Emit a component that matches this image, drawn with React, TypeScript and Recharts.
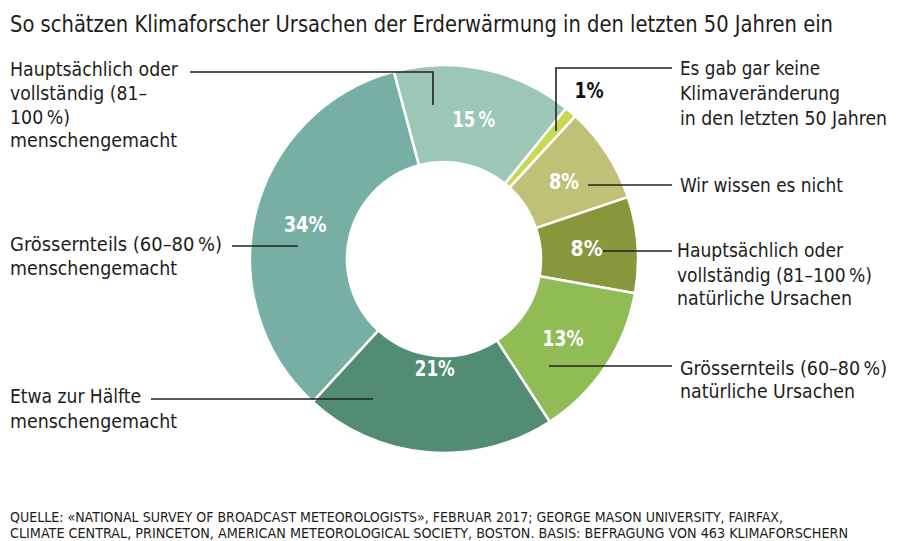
import { PieChart, Pie, Cell } from 'recharts'

// Umfrage: Ursachen der Erderwärmung (Anteile in %), im Uhrzeigersinn ab 15 %-Segment
const categories = [
  'Hauptsächlich oder vollständig (81–100 %) menschengemacht',
  'Es gab gar keine Klimaveränderung in den letzten 50 Jahren',
  'Wir wissen es nicht',
  'Hauptsächlich oder vollständig (81–100 %) natürliche Ursachen',
  'Grössernteils (60–80 %) natürliche Ursachen',
  'Etwa zur Hälfte menschengemacht',
  'Grössernteils (60–80 %) menschengemacht',
]
const shares = [15, 1, 8, 8, 13, 21, 34]
const shareLabels = ['15\u202f%', '1%', '8%', '8%', '13%', '21%', '34%']

const colors = ['#9cc6b5', '#c6d94f', '#bfc276', '#8a963c', '#8fbc55', '#528c73', '#77afa5']
const labelWidths = [43, 29, 30, 32, 41, 40, 43]

const title = 'So schätzen Klimaforscher Ursachen der Erderwärmung in den letzten 50 Jahren ein'
const sourceLines = [
  'QUELLE: «NATIONAL SURVEY OF BROADCAST METEOROLOGISTS», FEBRUAR 2017; GEORGE MASON UNIVERSITY, FAIRFAX,',
  'CLIMATE CENTRAL, PRINCETON, AMERICAN METEOROLOGICAL SOCIETY, BOSTON. BASIS: BEFRAGUNG VON 463 KLIMAFORSCHERN',
]

const FONT = "'Liberation Sans Narrow', 'DejaVu Sans Condensed', 'Arial Narrow', sans-serif"
const INK = '#1d1d1b'
const RADIAN = Math.PI / 180

const data = categories.map((name, i) => ({ name, value: shares[i], label: shareLabels[i] }))

// [text, x, baseline, width]
type Line = [string, number, number, number]
const annotationText: Line[] = [
  ['Hauptsächlich oder', 10, 76, 168],
  ['vollständig (81–', 10, 100, 137],
  ['100\u202f%)', 10, 124, 60],
  ['menschengemacht', 10, 147, 167],
  ['Grössernteils (60–80\u202f%)', 10, 251, 212],
  ['menschengemacht', 10, 275, 167],
  ['Etwa zur Hälfte', 10, 403, 131],
  ['menschengemacht', 10, 428, 167],
  ['Es gab gar keine', 680, 75, 140],
  ['Klimaveränderung', 680, 100, 160],
  ['in den letzten 50 Jahren', 680, 125, 207],
  ['Wir wissen es nicht', 680, 192, 163],
  ['Hauptsächlich oder', 677, 257, 166],
  ['vollständig (81–100\u202f%)', 677, 282, 195],
  ['natürliche Ursachen', 677, 305, 175],
  ['Grössernteils (60–80\u202f%)', 680, 375, 207],
  ['natürliche Ursachen', 680, 398, 175],
]

const leaders = [
  '190,72 433,72 433,105',
  '232,246 298,246',
  '151,399 373,399',
  '672,68 556,68 556,131',
  '588,185 672,185',
  '603,251 672,251',
  '549,366 672,366',
]

const renderShare = (props: any) => {
  const { cx, cy, midAngle, index } = props
  const small = data[index].value < 3
  // 21 % sits further in so the leader line passes under it
  const r = small ? 222 : data[index].value === 21 ? 110 : 143
  const x = cx + r * Math.cos(-midAngle * RADIAN)
  const y = cy + r * Math.sin(-midAngle * RADIAN)
  return (
    <text
      x={x}
      y={y}
      textAnchor="middle"
      dominantBaseline="central"
      fill={small ? '#111' : '#fff'}
      fontFamily={FONT}
      fontWeight="bold"
      fontSize={22}
      textLength={labelWidths[index]}
      lengthAdjust="spacingAndGlyphs"
    >
      {data[index].label}
    </text>
  )
}

export default function App() {
  return (
    <div style={{ position: 'absolute', left: 0, top: 0, width: 898, height: 541, background: '#fff' }}>
      <PieChart width={898} height={541} margin={{ top: 0, right: 0, bottom: 0, left: 0 }}>
        <Pie
          data={data}
          dataKey="value"
          nameKey="name"
          cx={444}
          cy={259}
          innerRadius={97}
          outerRadius={194}
          startAngle={105}
          endAngle={-255}
          stroke="#fff"
          strokeWidth={2.5}
          label={renderShare}
          labelLine={false}
          isAnimationActive={false}
        >
          {data.map((d, i) => (
            <Cell key={d.name} fill={colors[i]} />
          ))}
        </Pie>
      </PieChart>
      <svg
        width={898}
        height={541}
        style={{ position: 'absolute', left: 0, top: 0, pointerEvents: 'none' }}
      >
        <text x={10} y={32} fontFamily={FONT} fontSize={23} fill={INK} textLength={823} lengthAdjust="spacingAndGlyphs">
          {title}
        </text>
        {leaders.map((p) => (
          <polyline key={p} points={p} fill="none" stroke="#222" strokeWidth={1.6} />
        ))}
        {annotationText.map(([t, x, y, w], i) => (
          <text key={i} x={x} y={y} fontFamily={FONT} fontSize={20} fill={INK} textLength={w} lengthAdjust="spacingAndGlyphs">
            {t}
          </text>
        ))}
        <text x={10} y={522} fontFamily={FONT} fontSize={13.5} fill={INK} textLength={773} lengthAdjust="spacingAndGlyphs">
          {sourceLines[0]}
        </text>
        <text x={10} y={538} fontFamily={FONT} fontSize={13.5} fill={INK} textLength={838} lengthAdjust="spacingAndGlyphs">
          {sourceLines[1]}
        </text>
      </svg>
    </div>
  )
}
